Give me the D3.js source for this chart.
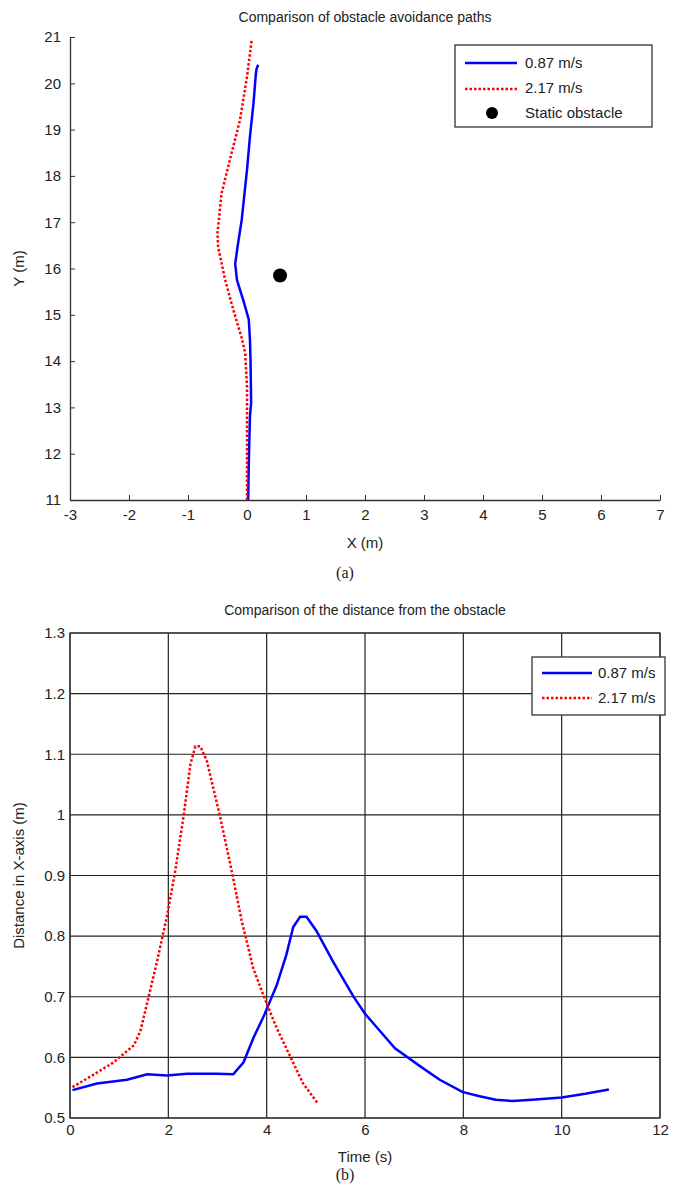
<!DOCTYPE html>
<html>
<head>
<meta charset="utf-8">
<script src="https://cdn.jsdelivr.net/npm/d3@7"></script>
<style>
  body { margin: 0; background: #fff; }
  svg { display: block; }
  text { font-family: "Liberation Sans", Arial, sans-serif; fill: #222; }
</style>
</head>
<body>
<div id="chart"></div>
<script>
// Path data (a)
var slowPathX = [0.02, 0.03, 0.05, 0.07, 0.06, 0.05, 0.03, -0.06, -0.17, -0.2, -0.16, -0.09, 0.0, 0.05, 0.11, 0.15, 0.16, 0.19];
var slowPathY = [11, 11.8, 12.8, 13.1, 14.0, 14.46, 14.9, 15.3, 15.75, 16.1, 16.47, 17.05, 18.13, 18.85, 19.57, 20.2, 20.3, 20.4];
var fastPathX = [0.0, 0.0, 0.0, -0.03, -0.09, -0.23, -0.37, -0.49, -0.5, -0.43, -0.26, -0.12, 0.0, 0.08];
var fastPathY = [11, 12.5, 13.44, 14.17, 14.5, 15.1, 15.75, 16.47, 16.77, 17.63, 18.5, 19.2, 20.14, 20.94];
var obstacleX = [0.56];
var obstacleY = [15.85];

// Distance data (b)
var slowTime = [0.05, 0.55, 1.16, 1.57, 1.97, 2.38, 2.99, 3.32, 3.53, 3.73, 3.93, 4.2, 4.4, 4.54, 4.68, 4.81, 5.01, 5.35, 5.76, 6.0, 6.3, 6.61, 7.11, 7.52, 7.98, 8.33, 8.66, 9.0, 9.4, 10.0, 10.48, 10.96];
var slowDist = [0.546, 0.557, 0.563, 0.572, 0.570, 0.573, 0.573, 0.572, 0.592, 0.632, 0.666, 0.718, 0.769, 0.815, 0.832, 0.832, 0.809, 0.758, 0.701, 0.672, 0.644, 0.615, 0.586, 0.563, 0.543, 0.536, 0.530, 0.528, 0.530, 0.534, 0.540, 0.547];
var fastTime = [0.05, 0.49, 0.89, 1.30, 1.43, 1.6, 1.77, 1.97, 2.14, 2.31, 2.45, 2.55, 2.65, 2.78, 3.05, 3.29, 3.49, 3.73, 3.97, 4.2, 4.47, 4.74, 5.05];
var fastDist = [0.551, 0.572, 0.592, 0.62, 0.643, 0.70, 0.758, 0.832, 0.907, 0.998, 1.084, 1.113, 1.113, 1.09, 0.998, 0.907, 0.826, 0.746, 0.695, 0.649, 0.603, 0.557, 0.523];

var seriesNames = ["0.87 m/s", "2.17 m/s"];
var xTicksA = [-3, -2, -1, 0, 1, 2, 3, 4, 5, 6, 7];
var yTicksA = [11, 12, 13, 14, 15, 16, 17, 18, 19, 20, 21];
var xTicksB = [0, 2, 4, 6, 8, 10, 12];
var yTicksB = [0.5, 0.6, 0.7, 0.8, 0.9, 1.0, 1.1, 1.2, 1.3];

var svgWidth = 686;
var svgHeight = 1184;
var blue = "#0000ff";
var red = "#ff0000";
var axisColor = "#333";

var svg = d3.select("#chart")
  .append("svg")
  .attr("width", svgWidth)
  .attr("height", svgHeight);

// ---------- chart (a) ----------
var a = { left: 70, right: 660, top: 37, bottom: 500 };

var xA = d3.scaleLinear().domain([-3, 7]).range([a.left, a.right]);
var yA = d3.scaleLinear().domain([11, 21]).range([a.bottom, a.top]);

svg.append("text")
  .attr("x", (a.left + a.right) / 2)
  .attr("y", 22)
  .attr("text-anchor", "middle")
  .attr("font-size", "14px")
  .text("Comparison of obstacle avoidance paths");

// plain hyphen for negatives, like the original
var plain = d => String(d);

var axA = svg.append("g")
  .attr("transform", `translate(0, ${a.bottom})`)
  .call(d3.axisBottom(xA).tickValues(xTicksA).tickFormat(plain).tickSizeInner(-5).tickSizeOuter(0).tickPadding(9));

var ayA = svg.append("g")
  .attr("transform", `translate(${a.left}, 0)`)
  .call(d3.axisLeft(yA).tickValues(yTicksA).tickFormat(plain).tickSizeInner(-5).tickSizeOuter(0).tickPadding(9));

[axA, ayA].forEach(g => {
  g.select(".domain").attr("stroke", axisColor).attr("stroke-width", 1.3);
  g.selectAll(".tick line").attr("stroke", axisColor);
  g.selectAll(".tick text").attr("font-size", "15px").attr("fill", "#222")
    .attr("font-family", "Liberation Sans, Arial, sans-serif");
});

svg.append("text")
  .attr("x", (a.left + a.right) / 2)
  .attr("y", a.bottom + 48)
  .attr("text-anchor", "middle")
  .attr("font-size", "15px")
  .text("X (m)");

svg.append("text")
  .attr("transform", `translate(24, ${(a.top + a.bottom) / 2}) rotate(-90)`)
  .attr("text-anchor", "middle")
  .attr("font-size", "15px")
  .text("Y (m)");

svg.append("text")
  .attr("x", 345)
  .attr("y", a.bottom + 78)
  .attr("text-anchor", "middle")
  .attr("font-size", "16px")
  .style("font-family", "Liberation Serif, Times New Roman, serif")
  .text("(a)");

var pathLine = d3.line()
  .x(d => xA(d[0]))
  .y(d => yA(d[1]));

svg.append("path")
  .attr("d", pathLine(d3.zip(slowPathX, slowPathY)))
  .attr("fill", "none")
  .attr("stroke", blue)
  .attr("stroke-width", 2.5);

svg.append("path")
  .attr("d", pathLine(d3.zip(fastPathX, fastPathY)))
  .attr("fill", "none")
  .attr("stroke", red)
  .attr("stroke-width", 2.5)
  .attr("stroke-dasharray", "2.5,2");

svg.selectAll(".obstacle")
  .data(d3.zip(obstacleX, obstacleY))
  .enter()
  .append("circle")
  .attr("class", "obstacle")
  .attr("cx", d => xA(d[0]))
  .attr("cy", d => yA(d[1]))
  .attr("r", 7)
  .attr("fill", "#000");

// legend (a)
var legA = svg.append("g").attr("transform", "translate(455, 45)");
legA.append("rect")
  .attr("width", 197).attr("height", 82)
  .attr("fill", "#fff").attr("stroke", axisColor).attr("stroke-width", 1.3);
legA.append("line").attr("x1", 10).attr("x2", 62).attr("y1", 18).attr("y2", 18)
  .attr("stroke", blue).attr("stroke-width", 2.5);
legA.append("line").attr("x1", 10).attr("x2", 62).attr("y1", 44).attr("y2", 44)
  .attr("stroke", red).attr("stroke-width", 2.5).attr("stroke-dasharray", "2.5,2");
legA.append("circle").attr("cx", 37).attr("cy", 68).attr("r", 6).attr("fill", "#000");
["0.87 m/s", "2.17 m/s", "Static obstacle"].forEach((t, i) => {
  legA.append("text")
    .attr("x", 70).attr("y", 18 + i * 25 + 5)
    .attr("font-size", "15px")
    .text(t);
});

// ---------- chart (b) ----------
var b = { left: 70, right: 660, top: 633, bottom: 1118 };

var xB = d3.scaleLinear().domain([0, 12]).range([b.left, b.right]);
var yB = d3.scaleLinear().domain([0.5, 1.3]).range([b.bottom, b.top]);

svg.append("text")
  .attr("x", (b.left + b.right) / 2)
  .attr("y", 615)
  .attr("text-anchor", "middle")
  .attr("font-size", "14px")
  .text("Comparison of the distance from the obstacle");

// grid
svg.append("g")
  .selectAll("line")
  .data(xTicksB)
  .enter()
  .append("line")
  .attr("x1", d => xB(d)).attr("x2", d => xB(d))
  .attr("y1", b.top).attr("y2", b.bottom)
  .attr("stroke", "#222").attr("stroke-width", 1.2);

svg.append("g")
  .selectAll("line")
  .data(yTicksB)
  .enter()
  .append("line")
  .attr("x1", b.left).attr("x2", b.right)
  .attr("y1", d => yB(d)).attr("y2", d => yB(d))
  .attr("stroke", "#222").attr("stroke-width", 1.2);

svg.append("rect")
  .attr("x", b.left).attr("y", b.top)
  .attr("width", b.right - b.left).attr("height", b.bottom - b.top)
  .attr("fill", "none").attr("stroke", axisColor).attr("stroke-width", 1.3);

var axB = svg.append("g")
  .attr("transform", `translate(0, ${b.bottom})`)
  .call(d3.axisBottom(xB).tickValues(xTicksB).tickFormat(plain).tickSizeInner(0).tickSizeOuter(0).tickPadding(6));

var ayB = svg.append("g")
  .attr("transform", `translate(${b.left}, 0)`)
  .call(d3.axisLeft(yB).tickValues(yTicksB).tickFormat(d => d === 1 ? "1" : d3.format(".1f")(d)).tickSizeInner(0).tickSizeOuter(0).tickPadding(5));

[axB, ayB].forEach(g => {
  g.select(".domain").remove();
  g.selectAll(".tick text").attr("font-size", "15px").attr("fill", "#222")
    .attr("font-family", "Liberation Sans, Arial, sans-serif");
});

svg.append("text")
  .attr("x", (b.left + b.right) / 2)
  .attr("y", b.bottom + 44)
  .attr("text-anchor", "middle")
  .attr("font-size", "15px")
  .text("Time (s)");

svg.append("text")
  .attr("transform", `translate(24, ${(b.top + b.bottom) / 2}) rotate(-90)`)
  .attr("text-anchor", "middle")
  .attr("font-size", "15px")
  .text("Distance in X-axis (m)");

svg.append("text")
  .attr("x", 345)
  .attr("y", 1180)
  .attr("text-anchor", "middle")
  .attr("font-size", "16px")
  .style("font-family", "Liberation Serif, Times New Roman, serif")
  .text("(b)");

var distLine = d3.line()
  .x(d => xB(d[0]))
  .y(d => yB(d[1]));

svg.append("path")
  .attr("d", distLine(d3.zip(slowTime, slowDist)))
  .attr("fill", "none")
  .attr("stroke", blue)
  .attr("stroke-width", 2.5);

svg.append("path")
  .attr("d", distLine(d3.zip(fastTime, fastDist)))
  .attr("fill", "none")
  .attr("stroke", red)
  .attr("stroke-width", 2.5)
  .attr("stroke-dasharray", "2.5,2");

// legend (b)
var legB = svg.append("g").attr("transform", "translate(532, 657)");
legB.append("rect")
  .attr("width", 133).attr("height", 58)
  .attr("fill", "#fff").attr("stroke", axisColor).attr("stroke-width", 1.3);
legB.append("line").attr("x1", 10).attr("x2", 60).attr("y1", 16).attr("y2", 16)
  .attr("stroke", blue).attr("stroke-width", 2.5);
legB.append("line").attr("x1", 10).attr("x2", 60).attr("y1", 41).attr("y2", 41)
  .attr("stroke", red).attr("stroke-width", 2.5).attr("stroke-dasharray", "2.5,2");
seriesNames.forEach((t, i) => {
  legB.append("text")
    .attr("x", 66).attr("y", 16 + i * 25 + 5)
    .attr("font-size", "15px")
    .text(t);
});
</script>
</body>
</html>
